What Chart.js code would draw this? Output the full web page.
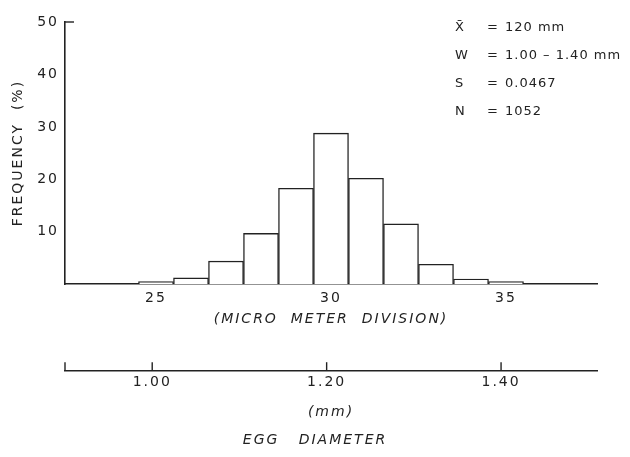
<!DOCTYPE html>
<html>
<head>
<meta charset="utf-8">
<script src="https://cdn.jsdelivr.net/npm/chart.js@4/dist/chart.umd.min.js"></script>
<style>
  html, body { margin: 0; padding: 0; background: #fff; }
  canvas { display: block; }
</style>
</head>
<body>
<canvas id="eggChart" width="630" height="457"></canvas>
<script>
"use strict";
// micrometer divisions (bin centres) and percentage frequency per bin
const divisions = [25, 26, 27, 28, 29, 30, 31, 32, 33, 34, 35];
const frequency = [0.5, 1.2, 4.4, 9.7, 18.3, 28.8, 20.2, 11.5, 3.8, 1.0, 0.5];
const divTicks = [25, 30, 35];
const freqTicks = [10, 20, 30, 40, 50];
const mmTicks = [1.00, 1.20, 1.40];
const statLabels = ['X\u0304', 'W', 'S', 'N'];
const statValues = ['120 mm', '1.00 \u2013 1.40 mm', '0.0467', '1052'];

const ink = '#222';
const face = '"DejaVu Sans", sans-serif';

// hand-lettered look: wide letter spacing on every text
const spacing = {
    id: 'spacing',
    beforeDraw(chart) { chart.ctx.letterSpacing = '2px'; },
    afterDraw(chart) { chart.ctx.letterSpacing = '0px'; }
};

// upward ticks on the mm scale and the small tick at the top of the y axis
const extraTicks = {
    id: 'extraTicks',
    afterDraw(chart) {
        const ctx = chart.ctx;
        const mm = chart.scales.mm;
        const y = chart.scales.y;
        ctx.save();
        ctx.strokeStyle = ink;
        ctx.lineWidth = 1.4;
        [mm.min, ...mmTicks].forEach(v => {
            const px = mm.getPixelForValue(v);
            ctx.beginPath();
            ctx.moveTo(px, mm.top);
            ctx.lineTo(px, mm.top - 8);
            ctx.stroke();
        });
        const top = y.getPixelForValue(50);
        ctx.beginPath();
        ctx.moveTo(y.right, top);
        ctx.lineTo(y.right + 9, top);
        ctx.stroke();
        ctx.restore();
    }
};

// summary statistics block, top right
const stats = {
    id: 'stats',
    afterDraw(chart) {
        const ctx = chart.ctx;
        ctx.save();
        ctx.fillStyle = ink;
        ctx.font = '13px ' + face;
        ctx.letterSpacing = '1px';
        ctx.textBaseline = 'middle';
        statLabels.forEach((lab, i) => {
            const ty = 28 + i * 28;
            ctx.fillText(lab, 455, ty);
            ctx.fillText('=', 487, ty);
            ctx.fillText(statValues[i], 505, ty);
        });
        ctx.restore();
    }
};

const ctx = document.getElementById('eggChart').getContext('2d');
new Chart(ctx, {
    type: 'bar',
    data: {
        datasets: [{
            data: divisions.map((d, i) => ({ x: d, y: frequency[i] })),
            backgroundColor: '#fff',
            borderColor: ink,
            borderWidth: 1.4,
            barPercentage: 1,
            categoryPercentage: 1
        }]
    },
    options: {
        responsive: false,
        animation: false,
        layout: { padding: { top: 22, right: 0, left: 0, bottom: 0 } },
        plugins: {
            legend: { display: false },
            tooltip: { enabled: false },
            title: {
                display: true,
                position: 'bottom',
                text: 'EGG   DIAMETER',
                color: ink,
                font: { family: face, size: 14, weight: 'normal', style: 'italic' },
                padding: { top: 4, bottom: 8 }
            }
        },
        scales: {
            x: {
                type: 'linear',
                position: 'bottom',
                offset: false,
                weight: 0,
                min: 22.4,
                max: 37.6,
                afterBuildTicks: s => { s.ticks = divTicks.map(v => ({ value: v })); },
                afterFit: s => { s.height = 86; },
                grid: { display: false, drawTicks: false, offset: false },
                border: { display: true, color: ink, width: 1.6 },
                ticks: { color: ink, padding: 6, font: { family: face, size: 14 } },
                title: {
                    display: true,
                    text: '(MICRO  METER  DIVISION)',
                    color: ink,
                    font: { family: face, size: 14, style: 'italic' },
                    padding: { top: 0, bottom: 42 }
                }
            },
            mm: {
                type: 'linear',
                position: 'bottom',
                offset: false,
                weight: 1,
                min: 0.90,
                max: 1.51,
                afterBuildTicks: s => { s.ticks = mmTicks.map(v => ({ value: v })); },
                afterFit: s => { s.height = 58; },
                grid: { display: false, drawTicks: false, offset: false },
                border: { display: true, color: ink, width: 1.4 },
                ticks: {
                    color: ink,
                    padding: 4,
                    font: { family: face, size: 14 },
                    callback: v => v.toFixed(2)
                },
                title: {
                    display: true,
                    text: '(mm)',
                    color: ink,
                    font: { family: face, size: 14, style: 'italic' },
                    padding: { top: 0, bottom: 7 }
                }
            },
            y: {
                min: 0,
                max: 50,
                afterBuildTicks: s => { s.ticks = freqTicks.map(v => ({ value: v })); },
                afterFit: s => { s.width = 65; },
                grid: { display: false, drawTicks: false },
                border: { display: true, color: ink, width: 1.6 },
                ticks: { color: ink, padding: 6, font: { family: face, size: 14 } },
                title: {
                    display: true,
                    text: 'FREQUENCY  (%)',
                    color: ink,
                    font: { family: face, size: 14 },
                    padding: { top: 10, bottom: 0 }
                }
            },
            // empty right-hand margin so the plot ends where the drawing does
            pad: {
                type: 'linear',
                position: 'right',
                afterFit: s => { s.width = 33; },
                grid: { display: false, drawTicks: false },
                border: { display: false },
                ticks: { display: false }
            }
        }
    },
    plugins: [spacing, extraTicks, stats]
});
</script>
</body>
</html>
